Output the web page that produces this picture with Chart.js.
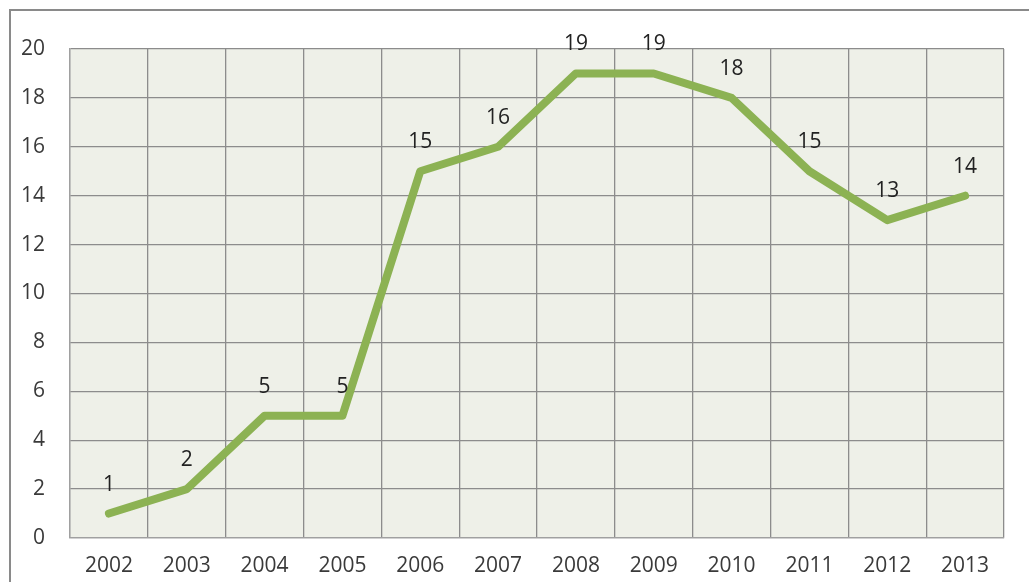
<!DOCTYPE html>
<html>
<head>
<meta charset="utf-8">
<script src="https://cdn.jsdelivr.net/npm/chart.js@4"></script>
<style>
html,body{margin:0;padding:0;background:#fff;}
#wrap{position:relative;width:1029px;height:582px;}
</style>
</head>
<body>
<div id="wrap"><canvas id="c" width="1029" height="582"></canvas></div>
<script>
const categories = ["2002","2003","2004","2005","2006","2007","2008","2009","2010","2011","2012","2013"];
const values = [1,2,5,5,15,16,19,19,18,15,13,14];
const yTicks = [0,2,4,6,8,10,12,14,16,18,20];

const bgPlugin = {
  id: 'bg',
  beforeDraw(chart) {
    const {ctx, chartArea: a} = chart;
    ctx.save();
    ctx.fillStyle = '#EEF0E8';
    ctx.fillRect(a.left, a.top, a.right - a.left, a.bottom - a.top);
    ctx.restore();
  },
  afterDraw(chart) {
    const ctx = chart.ctx;
    ctx.save();
    ctx.strokeStyle = '#8a8a8a';
    ctx.lineWidth = 2;
    ctx.beginPath();
    ctx.moveTo(10, 582);
    ctx.lineTo(10, 10);
    ctx.lineTo(1029, 10);
    ctx.stroke();
    ctx.restore();
  }
};

const labelPlugin = {
  id: 'vlabels',
  afterDatasetsDraw(chart) {
    const ctx = chart.ctx;
    const meta = chart.getDatasetMeta(0);
    ctx.save();
    ctx.font = '21px "Open Sans"';
    ctx.fillStyle = '#222222';
    ctx.textAlign = 'center';
    ctx.textBaseline = 'middle';
    meta.data.forEach((p, i) => {
      ctx.fillText(String(values[i]), p.x, p.y - 29);
    });
    ctx.restore();
  }
};

new Chart(document.getElementById('c'), {
  type: 'line',
  data: {
    labels: categories,
    datasets: [{
      data: values,
      borderColor: '#8CB253',
      borderWidth: 8,
      pointRadius: 0,
      tension: 0,
      borderCapStyle: 'round',
      borderJoinStyle: 'round',
      fill: false
    }]
  },
  options: {
    responsive: false,
    animation: false,
    devicePixelRatio: 1,
    layout: { padding: { left: 10, top: 49, right: 25, bottom: 0 } },
    plugins: { legend: { display: false }, tooltip: { enabled: false } },
    scales: {
      x: {
        type: 'category',
        offset: true,
        grid: { offset: true, color: '#8c8c8c', lineWidth: 1.3, drawTicks: false },
        border: { color: '#a0a0a0', width: 1.3 },
        ticks: { color: '#3a3a3a', font: { family: 'Open Sans', size: 21 }, padding: 15, maxRotation: 0 },
        afterFit(s) { s.height = 44; }
      },
      y: {
        min: 0, max: 20,
        afterBuildTicks(s) { s.ticks = yTicks.map(v => ({ value: v })); },
        grid: { color: '#8c8c8c', lineWidth: 1.3, drawTicks: false },
        border: { color: '#a0a0a0', width: 1.3 },
        ticks: { color: '#3a3a3a', font: { family: 'Open Sans', size: 21 }, padding: 25 },
        afterFit(s) { s.width = 60; }
      }
    }
  },
  plugins: [bgPlugin, labelPlugin]
});
</script>
</body>
</html>
